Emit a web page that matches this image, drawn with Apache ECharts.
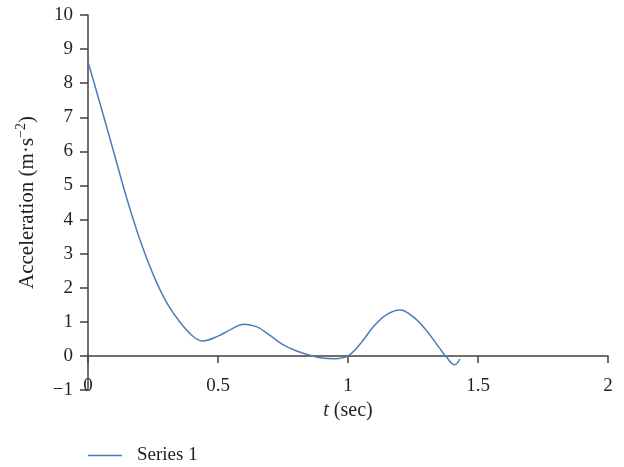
<!DOCTYPE html>
<html>
<head>
<meta charset="utf-8">
<script src="https://cdn.jsdelivr.net/npm/echarts@6/dist/echarts.min.js"></script>
<style>
  html, body { margin: 0; padding: 0; background: #fff; }
  #chart { width: 624px; height: 467px; }
</style>
</head>
<body>
<div id="chart"></div>
<script>
// time (sec) and acceleration values
const timeSec = [0, 0.05, 0.1, 0.15, 0.2, 0.25, 0.3, 0.35, 0.4, 0.44, 0.5, 0.55, 0.6, 0.65, 0.7, 0.75, 0.8, 0.85, 0.9, 0.95, 1.0, 1.05, 1.1, 1.15, 1.2, 1.25, 1.3, 1.35, 1.38, 1.41, 1.43]
const accel = [8.63, 7.3, 5.95, 4.6, 3.4, 2.4, 1.6, 1.03, 0.6, 0.44, 0.58, 0.78, 0.93, 0.85, 0.6, 0.33, 0.15, 0.03, -0.06, -0.08, 0.0, 0.38, 0.88, 1.22, 1.35, 1.15, 0.76, 0.25, -0.05, -0.26, -0.09]
const xTicks = [0, 0.5, 1, 1.5, 2]
const yTicks = [-1, 0, 1, 2, 3, 4, 5, 6, 7, 8, 9, 10]
const seriesName = 'Series 1'

const txt = '#231f20'
const axisCol = '#404040'
const font = 'Liberation Serif'

let mychart = echarts.init(document.getElementById('chart'))

mychart.setOption({
  animation: false,
  grid: { left: 88, right: 16, top: 15, bottom: 77 },
  legend: {
    left: 83,
    top: 441,
    icon: 'rect',
    itemWidth: 34,
    itemHeight: 1.5,
    data: [seriesName],
    textStyle: { fontFamily: font, fontSize: 19, color: txt, padding: [0, 0, 0, 10] },
  },
  xAxis: {
    type: 'value',
    min: xTicks[0],
    max: xTicks[xTicks.length - 1],
    interval: 0.5,
    splitLine: { show: false },
    axisLine: { show: true, onZero: true, lineStyle: { color: axisCol, width: 1.5 } },
    axisTick: { show: true, length: 7, lineStyle: { color: axisCol, width: 1.5 } },
    // labels sit just under the zero line, above the grid bottom
    axisLabel: { margin: -13, fontFamily: font, fontSize: 19, color: txt },
    name: '{i|t} (sec)',
    nameLocation: 'middle',
    nameGap: 9,
    nameTextStyle: {
      fontFamily: font, fontSize: 20, color: txt,
      rich: { i: { fontFamily: font, fontSize: 20, fontStyle: 'italic', color: txt } },
    },
  },
  yAxis: {
    type: 'value',
    min: yTicks[0],
    max: yTicks[yTicks.length - 1],
    interval: 1,
    splitLine: { show: false },
    axisLine: { show: true, lineStyle: { color: axisCol, width: 1.5 } },
    axisTick: { show: true, length: 8, lineStyle: { color: axisCol, width: 1.5 } },
    axisLabel: {
      margin: 15, fontFamily: font, fontSize: 19, color: txt,
      formatter: (v) => (v < 0 ? '\u2212' + Math.abs(v) : String(v)),
    },
    name: '{n|Acceleration (m·s}{s|\u22122}{n|)}',
    nameLocation: 'middle',
    nameGap: 48,
    nameTextStyle: {
      color: txt,
      rich: {
        n: { fontFamily: font, fontSize: 21, color: txt, lineHeight: 26 },
        s: { fontFamily: font, fontSize: 14, color: txt, verticalAlign: 'top', lineHeight: 26 },
      },
    },
  },
  series: [
    {
      name: seriesName,
      type: 'line',
      smooth: 0.4,
      showSymbol: false,
      symbol: 'none',
      color: '#4a7ebb',
      lineStyle: { color: '#4a7ebb', width: 1.5 },
      data: timeSec.map((t, i) => [t, accel[i]]),
    },
  ],
})
</script>
</body>
</html>
